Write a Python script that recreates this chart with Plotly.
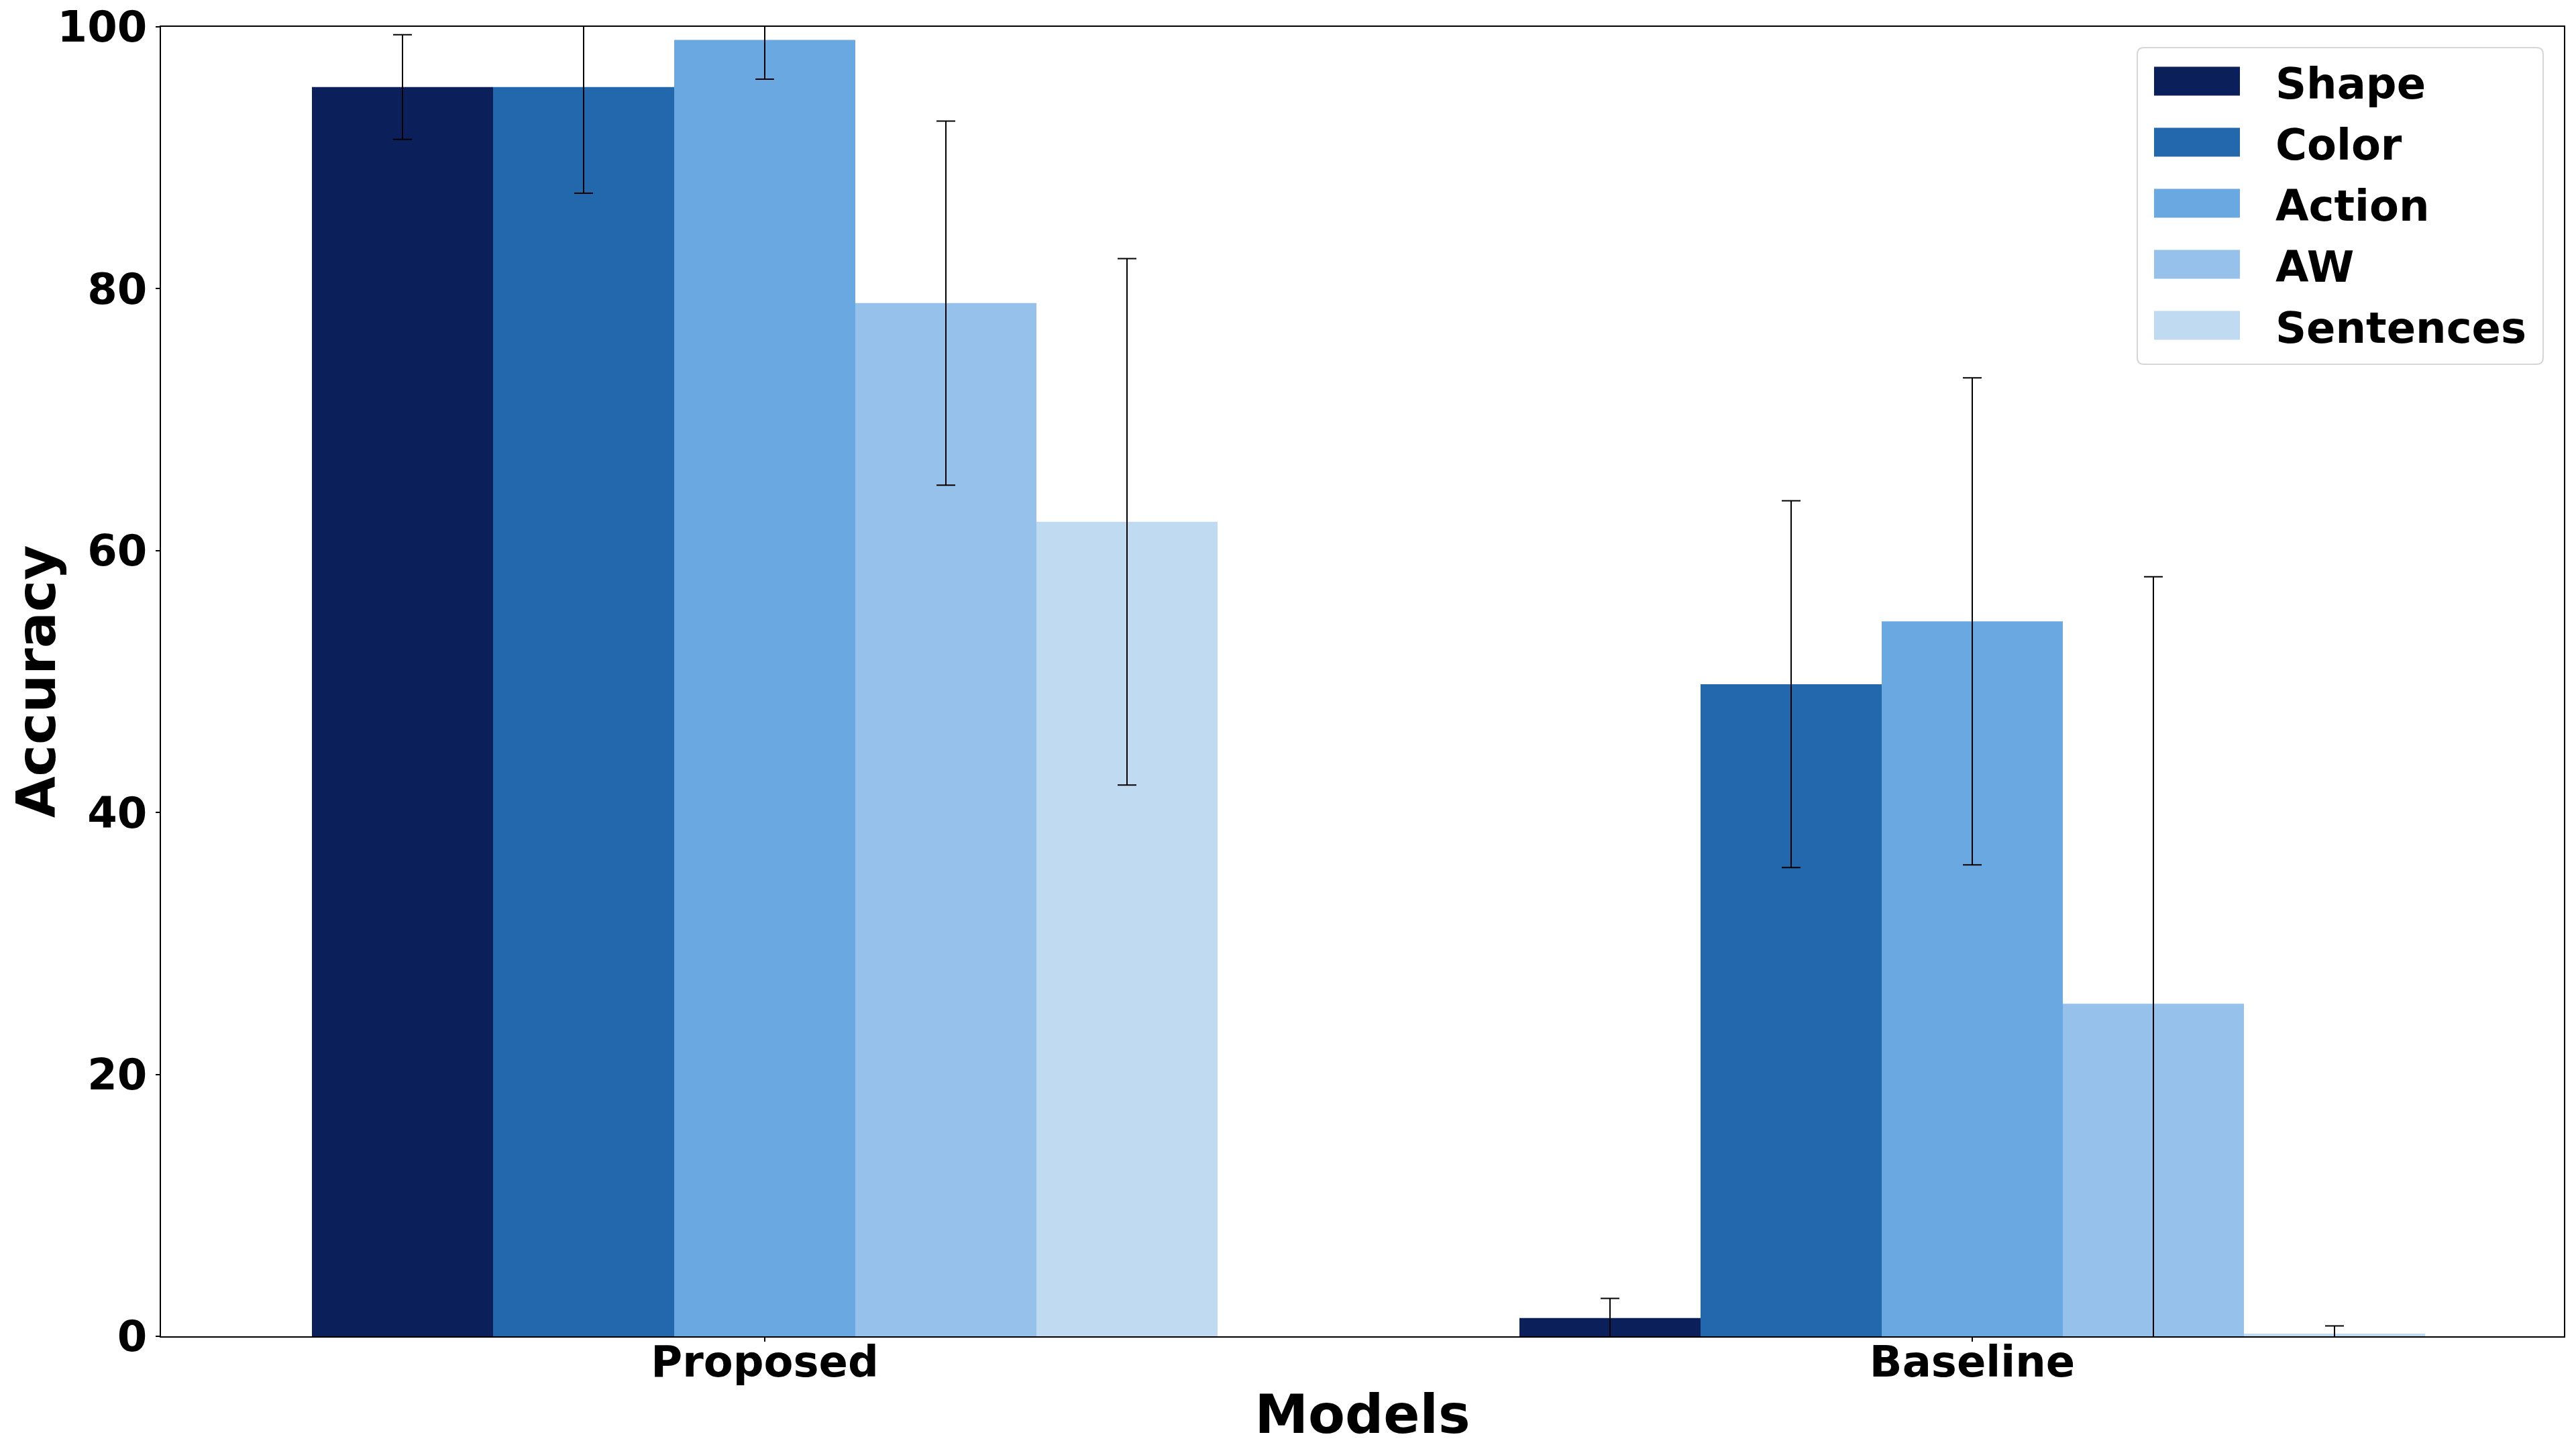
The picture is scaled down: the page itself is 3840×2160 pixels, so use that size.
"""Grouped bar chart: accuracy per attribute for the proposed model vs the baseline."""

import plotly.graph_objects as go

MODELS = ["Proposed", "Baseline"]
SERIES = ["Shape", "Color", "Action", "AW", "Sentences"]
COLORS = ["#0b1f5b", "#2368ad", "#6aa8e2", "#95c1ea", "#bfdaf1"]

# accuracy (%) per series, one value per model
SHAPE = [95.4, 1.4]
COLOR = [95.4, 49.8]
ACTION = [99.0, 54.6]
AW = [78.9, 25.4]
SENTENCES = [62.2, 0.2]

# standard deviations
SHAPE_ERR = [4.0, 1.5]
COLOR_ERR = [8.1, 14.0]
ACTION_ERR = [3.0, 18.6]
AW_ERR = [13.9, 32.6]
SENTENCES_ERR = [20.1, 0.6]

VALUES = [SHAPE, COLOR, ACTION, AW, SENTENCES]
ERRORS = [SHAPE_ERR, COLOR_ERR, ACTION_ERR, AW_ERR, SENTENCES_ERR]

FONT = "DejaVu Sans"

# the page body adds an 8px offset, so the figure is 8px smaller than the window
W, H = 3832, 2152
L, R, T, B = 232, 18, 32, 168
PW, PH = W - L - R, H - T - B


def px_x(x):
    # window pixel -> paper coordinate
    return (x - 8 - L) / PW


def px_y(y):
    return (H - B - (y - 8)) / PH


fig = go.Figure()
for name, vals, errs, color in zip(SERIES, VALUES, ERRORS, COLORS):
    fig.add_trace(
        go.Bar(
            x=MODELS,
            y=vals,
            name=name,
            marker={"color": color, "line": {"width": 0}},
            error_y={
                "type": "data",
                "array": errs,
                "visible": True,
                "color": "black",
                "thickness": 2,
                "width": 14,
            },
            showlegend=False,
        )
    )

# legend drawn by hand so the swatches can be large like the original
shapes = []
annotations = []
bx0, bx1, by0, by1 = px_x(3186), px_x(3791), px_y(543), px_y(71)
rx, ry = 10 / PW, 10 / PH
shapes.append(
    {
        "type": "path",
        "xref": "paper",
        "yref": "paper",
        "path": (
            f"M{bx0 + rx},{by1} L{bx1 - rx},{by1} Q{bx1},{by1} {bx1},{by1 - ry} "
            f"L{bx1},{by0 + ry} Q{bx1},{by0} {bx1 - rx},{by0} "
            f"L{bx0 + rx},{by0} Q{bx0},{by0} {bx0},{by0 + ry} "
            f"L{bx0},{by1 - ry} Q{bx0},{by1} {bx0 + rx},{by1} Z"
        ),
        "fillcolor": "white",
        "opacity": 1,
        "line": {"color": "#d6d6d6", "width": 2},
        "layer": "above",
    }
)
for i, (name, color) in enumerate(zip(SERIES, COLORS)):
    cy = 121 + 91 * i
    shapes.append(
        {
            "type": "rect",
            "xref": "paper",
            "yref": "paper",
            "x0": px_x(3211),
            "x1": px_x(3339),
            "y0": px_y(cy + 21.5),
            "y1": px_y(cy - 21.5),
            "fillcolor": color,
            "opacity": 1,
            "line": {"width": 0},
            "layer": "above",
        }
    )
    annotations.append(
        {
            "text": f"<b>{name}</b>",
            "xref": "paper",
            "yref": "paper",
            "x": px_x(3390),
            "y": px_y(cy + 4),
            "xanchor": "left",
            "yanchor": "middle",
            "showarrow": False,
            "font": {"family": FONT, "size": 64, "color": "black"},
        }
    )

fig.update_layout(
    width=W,
    height=H,
    template="simple_white",
    paper_bgcolor="white",
    plot_bgcolor="white",
    barmode="group",
    bargap=0.25,
    bargroupgap=0,
    margin={"l": L, "r": R, "t": T, "b": B, "autoexpand": False},
    font={"family": FONT, "color": "black"},
    shapes=shapes,
    annotations=annotations,
    xaxis={
        "type": "category",
        "range": [-0.5, 1.49],
        "automargin": False,
        "showline": True,
        "mirror": True,
        "linecolor": "black",
        "linewidth": 2,
        "ticks": "outside",
        "ticklen": 6,
        "tickwidth": 1.5,
        "tickcolor": "black",
        "ticklabelstandoff": -25,
        "tickfont": {"family": FONT, "size": 64, "weight": "bold"},
        "title": {
            "text": "Models",
            "font": {"family": FONT, "size": 80, "weight": "bold"},
            "standoff": 14,
        },
        "showgrid": False,
    },
    yaxis={
        "range": [0, 100],
        "tickvals": [0, 20, 40, 60, 80, 100],
        "automargin": False,
        "ticklabeloverflow": "allow",
        "showline": True,
        "mirror": True,
        "linecolor": "black",
        "linewidth": 2,
        "ticks": "outside",
        "ticklen": 6,
        "tickwidth": 1.5,
        "tickcolor": "black",
        "tickfont": {"family": FONT, "size": 64, "weight": "bold"},
        "title": {
            "text": "Accuracy",
            "font": {"family": FONT, "size": 80, "weight": "bold"},
            "standoff": 4,
        },
        "showgrid": False,
        "zeroline": False,
    },
)

fig.write_html("out.html")
